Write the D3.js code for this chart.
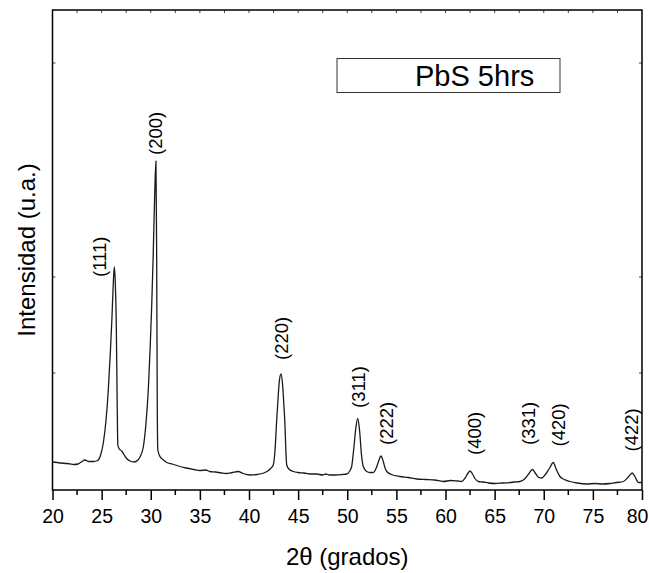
<!DOCTYPE html>
<html>
<head>
<meta charset="utf-8">
<script src="https://cdn.jsdelivr.net/npm/d3@7"></script>
<style>
  body { margin: 0; background: #fff; }
  svg text { font-family: "Liberation Sans", Arial, sans-serif; fill: #000; }
</style>
</head>
<body>
<div id="chart"></div>
<script>
// difractograma PbS 5hrs (2theta, intensidad en u.a.)
var twoTheta = [20.0, 20.8, 21.5, 22.2, 22.6, 23.0, 23.3, 23.7, 24.2, 24.6, 24.9, 25.17, 25.45, 25.68, 25.9, 26.05, 26.18, 26.29, 26.4, 26.5,
  26.58, 26.65, 26.8, 27.04, 27.3, 27.55, 27.9, 28.3, 28.7, 29.0, 29.24, 29.5, 29.75, 29.95, 30.1, 30.25, 30.4, 30.53, 30.6, 30.66,
  30.72, 30.94, 31.3, 31.62, 32.2, 32.8, 33.6, 34.4, 35.0, 35.6, 36.0, 36.6, 37.2, 37.7, 38.3, 38.9, 39.4, 40.1, 40.8, 41.5,
  41.9, 42.2, 42.47, 42.65, 42.82, 42.98, 43.1, 43.26, 43.42, 43.55, 43.66, 43.75, 43.84, 44.1, 44.51, 45.0, 45.6, 46.2, 46.9, 47.5,
  47.8, 48.2, 48.8, 49.5, 49.95, 50.25, 50.45, 50.65, 50.85, 51.06, 51.25, 51.45, 51.63, 51.98, 52.3, 52.65, 52.95, 53.2, 53.43, 53.65,
  53.85, 54.02, 54.5, 55.37, 56.2, 57.07, 58.0, 58.9, 59.78, 60.5, 61.2, 61.65, 62.0, 62.3, 62.49, 62.75, 63.0, 63.34, 63.8, 64.4,
  65.04, 65.8, 66.6, 67.0, 67.58, 68.1, 68.5, 68.84, 69.2, 69.5, 69.79, 70.2, 70.6, 70.97, 71.3, 71.65, 72.1, 72.67, 73.4, 74.37,
  75.2, 76.0, 76.74, 77.4, 78.1, 78.6, 79.0, 79.3, 79.63, 80.0];
var intensity = [280, 270, 265, 255, 260, 285, 300, 285, 285, 295, 350, 470, 700, 1000, 1400, 1720, 2050, 2230, 2050, 1600,
  900, 450, 410, 390, 350, 315, 290, 280, 300, 350, 430, 650, 1000, 1450, 1850, 2350, 2950, 3290, 2400, 900,
  400, 335, 300, 275, 260, 240, 220, 205, 195, 200, 185, 180, 170, 165, 175, 185, 165, 150, 155, 170,
  190, 215, 250, 400, 700, 950, 1100, 1160, 1050, 850, 650, 400, 250, 205, 185, 175, 170, 160, 160, 150,
  160, 150, 150, 155, 160, 190, 235, 400, 600, 715, 600, 350, 235, 185, 175, 175, 220, 290, 340, 290,
  220, 185, 155, 135, 125, 110, 105, 100, 85, 95, 90, 85, 120, 170, 190, 160, 115, 85, 80, 70,
  65, 70, 75, 80, 85, 115, 165, 205, 160, 125, 120, 160, 220, 275, 200, 135, 105, 85, 70, 60,
  65, 60, 65, 75, 85, 130, 170, 130, 75, 75];

// indices de Miller y donde va cada etiqueta
var peakLabels = ["(111)", "(200)", "(220)", "(311)", "(222)", "(400)", "(331)", "(420)", "(422)"];
var labelTheta = [24.83, 30.53, 43.26, 51.12, 54.02, 63.0, 68.43, 71.48, 78.95];
var labelBase = [2130, 3350, 1300, 820, 450, 350, 450, 435, 385];

var xTicks = [20, 25, 30, 35, 40, 45, 50, 55, 60, 65, 70, 75, 80];
var yTicks = [1170, 2130, 4270];
var legendText = "PbS 5hrs";

var data = twoTheta.map(function(t, i) { return {t: t, v: intensity[i]}; });

var margin = {top: 10, right: 7, bottom: 83, left: 52.5},
    width = 649 - margin.left - margin.right,
    height = 573 - margin.top - margin.bottom;

var x = d3.scaleLinear().domain([20, 80]).range([0, width]);
var y = d3.scaleLinear().domain([0, 4800]).range([height, 0]);

var svg = d3.select("#chart").append("svg")
    .attr("width", 649)
    .attr("height", 573)
  .append("g")
    .attr("transform", "translate(" + margin.left + "," + margin.top + ")");

// eje inferior: mayores cada 5, menores cada 2.5
var xMinor = d3.range(22.5, 80, 5);
svg.append("g")
    .attr("transform", "translate(0," + height + ")")
    .selectAll("line.minor")
    .data(xMinor).enter().append("line")
    .attr("x1", function(d) { return x(d); })
    .attr("x2", function(d) { return x(d); })
    .attr("y1", 0).attr("y2", 5)
    .attr("stroke", "#000").attr("stroke-width", 1.5);

var xAxis = svg.append("g")
    .attr("transform", "translate(0," + height + ")")
    .call(d3.axisBottom(x).tickValues(xTicks).tickSize(10).tickSizeOuter(0).tickPadding(9));
xAxis.select(".domain").remove();
xAxis.selectAll(".tick line").attr("stroke-width", 1.5);
xAxis.selectAll(".tick text").style("font-size", "19.5px")
    .attr("dx", function(d) { return d === 80 ? -5 : 0; });

// eje superior con marcas pequeñas hacia dentro
svg.append("g")
    .selectAll("line")
    .data(d3.range(22.5, 80, 2.5)).enter().append("line")
    .attr("x1", function(d) { return x(d); })
    .attr("x2", function(d) { return x(d); })
    .attr("y1", 0).attr("y2", 3)
    .attr("stroke", "#444").attr("stroke-width", 1);

// marcas del eje y (sin numeros)
svg.append("g")
    .selectAll("line")
    .data(yTicks).enter().append("line")
    .attr("x1", 0).attr("x2", 3)
    .attr("y1", function(d) { return y(d); })
    .attr("y2", function(d) { return y(d); })
    .attr("stroke", "#444").attr("stroke-width", 1);
svg.append("g")
    .selectAll("line")
    .data(yTicks).enter().append("line")
    .attr("x1", width).attr("x2", width - 3)
    .attr("y1", function(d) { return y(d); })
    .attr("y2", function(d) { return y(d); })
    .attr("stroke", "#444").attr("stroke-width", 1);

// marco
svg.append("rect")
    .attr("x", 0).attr("y", 0)
    .attr("width", width).attr("height", height)
    .attr("fill", "none")
    .attr("stroke", "#000")
    .attr("stroke-width", 1.5);

var line = d3.line()
    .x(function(d) { return x(d.t); })
    .y(function(d) { return y(d.v); })
    .curve(d3.curveMonotoneX);

svg.append("path")
    .datum(data)
    .attr("fill", "none")
    .attr("stroke", "#1a1a1a")
    .attr("stroke-width", 1.3)
    .attr("stroke-linejoin", "round")
    .attr("d", line);

// etiquetas de los picos
svg.selectAll(".peak")
    .data(peakLabels).enter().append("text")
    .attr("class", "peak")
    .attr("transform", function(d, i) {
        return "translate(" + x(labelTheta[i]) + "," + y(labelBase[i]) + ") rotate(-90)";
    })
    .attr("dy", "0.35em")
    .style("font-size", "18.5px")
    .style("text-anchor", "start")
    .text(function(d) { return d; });

// leyenda
svg.append("rect")
    .attr("x", 284.5).attr("y", 48.5)
    .attr("width", 223).attr("height", 34)
    .attr("fill", "#fff")
    .attr("stroke", "#333")
    .attr("stroke-width", 1);
svg.append("text")
    .attr("x", 362.5).attr("y", 76)
    .style("font-size", "29px")
    .text(legendText);

// titulos de ejes
svg.append("text")
    .attr("x", width / 2)
    .attr("y", height + 75)
    .style("text-anchor", "middle")
    .style("font-size", "24px")
    .text("2θ (grados)");

svg.append("text")
    .attr("transform", "rotate(-90)")
    .attr("x", -height / 2)
    .attr("y", -18)
    .style("text-anchor", "middle")
    .style("font-size", "24px")
    .text("Intensidad (u.a.)");
</script>
</body>
</html>
